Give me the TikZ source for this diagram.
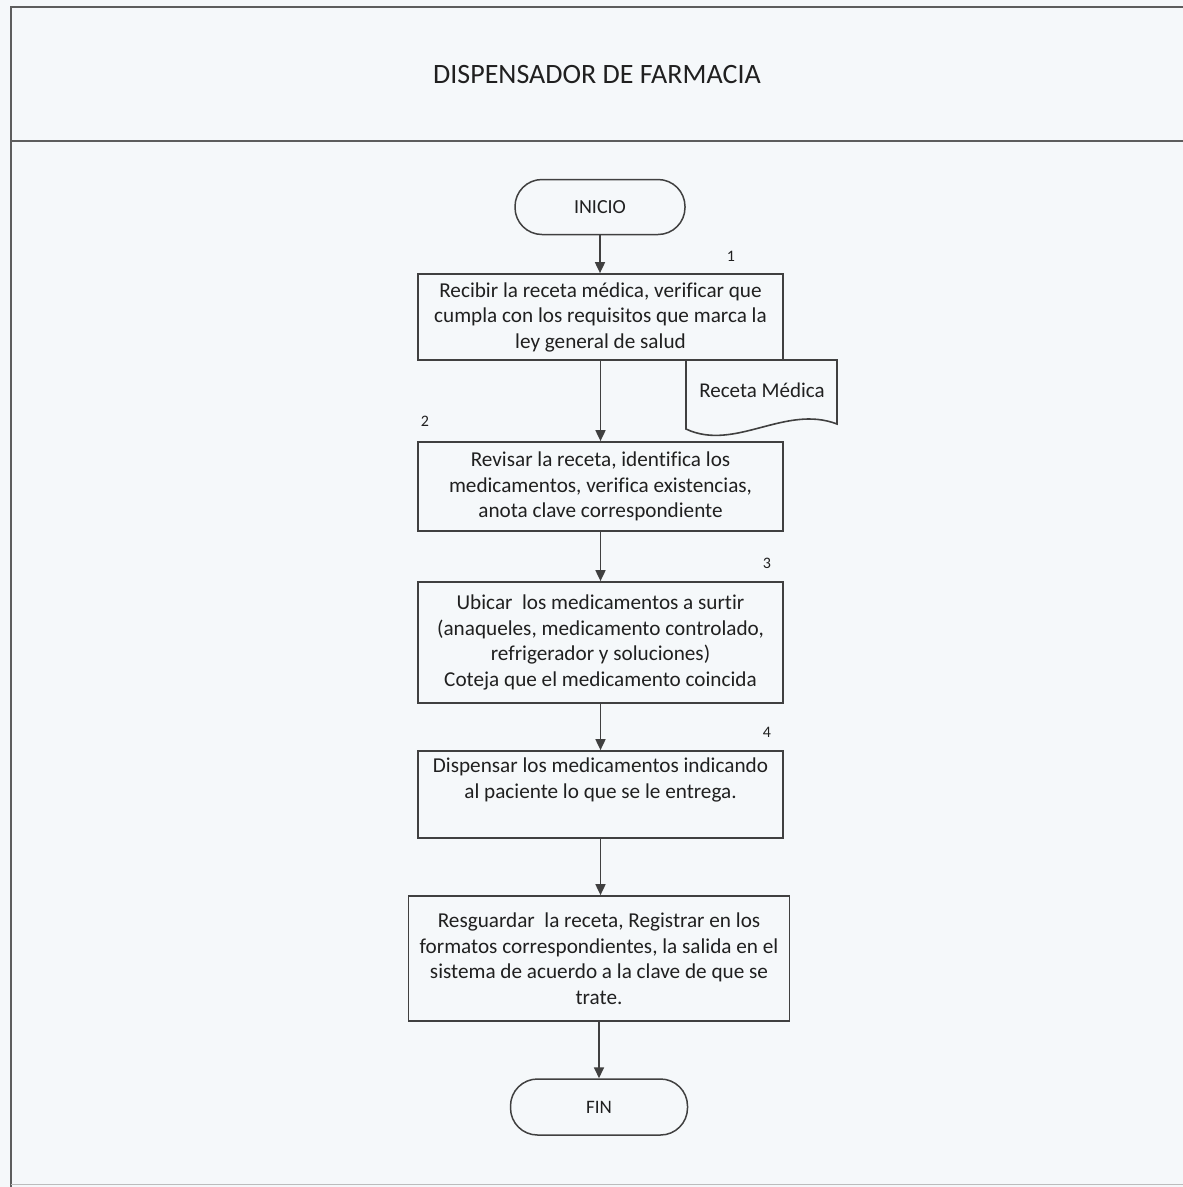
\documentclass[tikz,border=0pt]{standalone}
\usepackage{fontspec}
\setmainfont{Carlito}[Ligatures=NoCommon]
\usetikzlibrary{arrows.meta}
\definecolor{paper}{RGB}{245,248,250}
\definecolor{ink}{RGB}{64,64,64}
\definecolor{txt}{RGB}{32,32,32}
\begin{document}
\begin{tikzpicture}[x=1pt,y=-1pt,
  frameline/.style={draw=ink!85, line width=1.8pt},
  procbox/.style={draw=ink, line width=1.7pt, rectangle, inner sep=0pt,
    align=center, text=txt, font=\fontsize{21.2}{25.5}\selectfont,
    minimum width=365pt},
  terminal/.style={draw=ink, line width=1.5pt, rectangle, rounded corners=27pt,
    inner sep=0pt, text=txt, minimum width=170pt, minimum height=55pt},
  steplabel/.style={text=txt, font=\fontsize{16}{18}\selectfont, inner sep=0pt},
  flow/.style={draw=ink, line width=1.7pt, -{Triangle[length=11pt,width=10pt]}}
]
% page and frame
\fill[paper] (0,0) rectangle (1183,1187);
\useasboundingbox (0,0) rectangle (1183,1187);
\draw[frameline] (1183,7) -- (11,7) -- (11,1187);
\draw[frameline] (11,141) -- (1183,141);
\draw[draw=ink!35, line width=1pt] (11,1184) -- (1183,1184);

% title
\node[text=txt, font=\fontsize{28}{32}\selectfont] (title) at (597,75) {DISPENSADOR DE FARMACIA};

% flow nodes
\node[terminal, font=\fontsize{20}{22}\selectfont] (inicio) at (600,207) {INICIO};

\node[procbox, minimum height=86pt] (b1) at (600.5,317)
  {Recibir la receta médica, verificar que\\cumpla con los requisitos que marca la\\ley general de salud};

\node[procbox, minimum height=89pt] (b2) at (600.5,486.5)
  {Revisar la receta, identifica los\\medicamentos, verifica existencias,\\anota clave correspondiente};

\node[procbox, minimum height=121pt] (b3) at (600.5,642.5)
  {Ubicar\ \ los medicamentos a surtir\\(anaqueles, medicamento controlado,\\refrigerador y soluciones)\\Coteja que el medicamento coincida};

\node[procbox, minimum height=87pt] (b4) at (600.5,794.5)
  {Dispensar los medicamentos indicando\\al paciente lo que se le entrega.\\ \strut};

\node[procbox, minimum width=381pt, minimum height=125pt] (b5) at (599,958.5)
  {Resguardar\ \ la receta, Registrar en los\\formatos correspondientes, la salida en el\\sistema de acuerdo a la clave de que se\\trate.};

\node[terminal, minimum width=177pt, minimum height=56pt, font=\fontsize{19}{22}\selectfont] (fin) at (599,1107) {FIN};

% document attached to step 1
\draw[draw=ink, line width=1.6pt]
  (686,360) -- (837,360) -- (837,424)
  .. controls (785,404) and (735,452) .. (686,429) -- cycle;
\node[text=txt, font=\fontsize{21}{24}\selectfont] (receta) at (762,390) {Receta Médica};

% step numbers
\node[steplabel] (n1) at (731,256) {1};
\node[steplabel] (n2) at (425,421) {2};
\node[steplabel] (n3) at (767,563) {3};
\node[steplabel] (n4) at (767,732) {4};

% connectors
\draw[flow] (inicio.south) -- (inicio.south |- b1.north);
\draw[flow] (b1.south) -- (b1.south |- b2.north);
\draw[flow] (b2.south) -- (b2.south |- b3.north);
\draw[flow] (b3.south) -- (b3.south |- b4.north);
\draw[flow] (b4.south) -- (b4.south |- b5.north);
\draw[flow] (b5.south) -- (b5.south |- fin.north);
\end{tikzpicture}
\end{document}
